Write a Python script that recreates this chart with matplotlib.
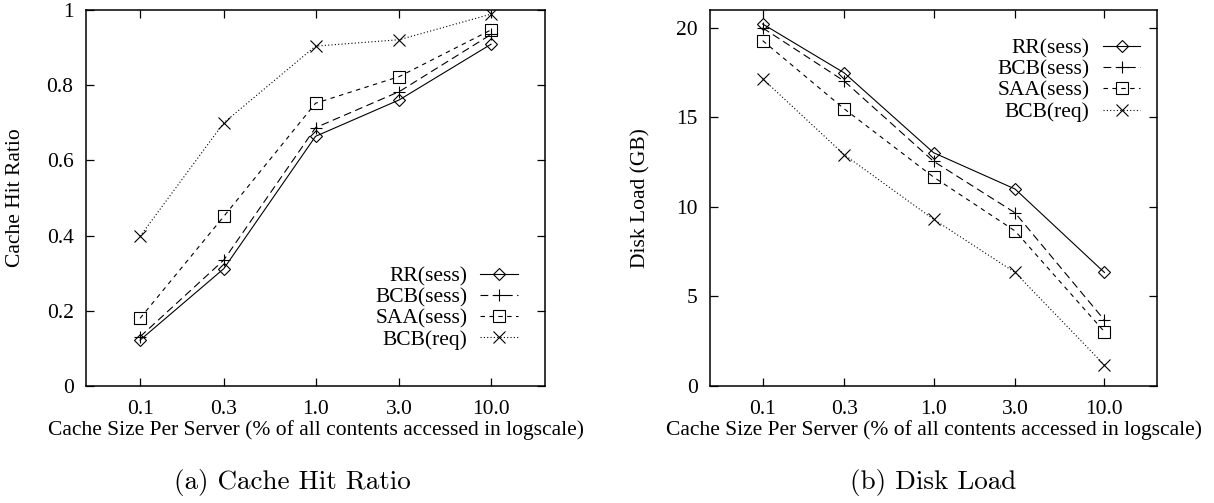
import matplotlib
matplotlib.use('Agg')
from matplotlib import pyplot as plt

sizes = [0.1, 0.3, 1.0, 3.0, 10.0]
size_labels = ['0.1', '0.3', '1.0', '3.0', '10.0']
names = ['RR(sess)', 'BCB(sess)', 'SAA(sess)', 'BCB(req)']

hit_rr = [0.122, 0.312, 0.664, 0.761, 0.909]
hit_bcb = [0.131, 0.335, 0.687, 0.783, 0.935]
hit_saa = [0.180, 0.451, 0.752, 0.823, 0.947]
hit_req = [0.398, 0.700, 0.904, 0.921, 0.989]

disk_rr = [20.22, 17.49, 13.03, 11.0, 6.34]
disk_bcb = [20.0, 17.03, 12.55, 9.67, 3.68]
disk_saa = [19.29, 15.48, 11.67, 8.66, 3.03]
disk_req = [17.16, 12.92, 9.31, 6.34, 1.17]

styles = [
    dict(marker='D', markersize=6.5, linestyle='-'),
    dict(marker='+', markersize=9, linestyle=(0, (7, 4))),
    dict(marker='s', markersize=8, linestyle=(0, (4, 4))),
    dict(marker='x', markersize=8, linestyle=(0, (1, 2))),
]

plt.rcParams['font.family'] = ['Liberation Serif', 'DejaVu Serif']
fs = 15.5

fig = plt.figure(figsize=(12.14, 5.03), dpi=100)
ax1 = fig.add_axes([86 / 1214, 117 / 503, 459 / 1214, 376 / 503])
ax2 = fig.add_axes([710 / 1214, 117 / 503, 447 / 1214, 376 / 503])


def draw(ax, series, ylim, yticks, ylabels, ylabel, ylabel_x, legend_anchor):
    for vals, name, st in zip(series, names, styles):
        ax.plot(sizes, vals, color='black', linewidth=0.8, fillstyle='none',
                markeredgewidth=0.8, label=name, **st)
    ax.set_xscale('log')
    ax.set_xlim(0.0492, 20.3)
    ax.set_ylim(*ylim)
    ax.set_xticks(sizes)
    ax.set_xticklabels(size_labels)
    ax.minorticks_off()
    ax.set_yticks(yticks)
    ax.set_yticklabels(ylabels)
    ax.tick_params(direction='in', length=6, width=0.9, top=True, right=True,
                   labelsize=fs)
    ax.tick_params(axis='x', pad=10)
    ax.tick_params(axis='y', pad=9)
    for sp in ax.spines.values():
        sp.set_linewidth(1.1)
    ax.set_xlabel('Cache Size Per Server (% of all contents accessed in logscale)',
                  fontsize=fs, labelpad=1)
    ax.set_ylabel(ylabel, fontsize=fs)
    ax.yaxis.set_label_coords(ylabel_x, 0.5)
    ax.legend(loc='upper right', bbox_to_anchor=legend_anchor, frameon=False,
              markerfirst=False, fontsize=fs, handlelength=1.75, handletextpad=0.6,
              labelspacing=0.05, borderaxespad=0, numpoints=1)


draw(ax1, [hit_rr, hit_bcb, hit_saa, hit_req], (0, 1),
     [0, 0.2, 0.4, 0.6, 0.8, 1], ['0', '0.2', '0.4', '0.6', '0.8', '1'],
     'Cache Hit Ratio', -0.133, (0.96, 0.342))
draw(ax2, [disk_rr, disk_bcb, disk_saa, disk_req], (0, 21),
     [0, 5, 10, 15, 20], ['0', '5', '10', '15', '20'],
     'Disk Load (GB)', -0.134, (0.982, 0.947))

fig.text(292 / 1214, 1 - 483 / 503, '(a) Cache Hit Ratio', family='cmr10',
         fontsize=19.5, ha='center', va='center')
fig.text(933 / 1214, 1 - 483 / 503, '(b) Disk Load', family='cmr10',
         fontsize=19.5, ha='center', va='center')

fig.savefig('out.png', dpi=100)
